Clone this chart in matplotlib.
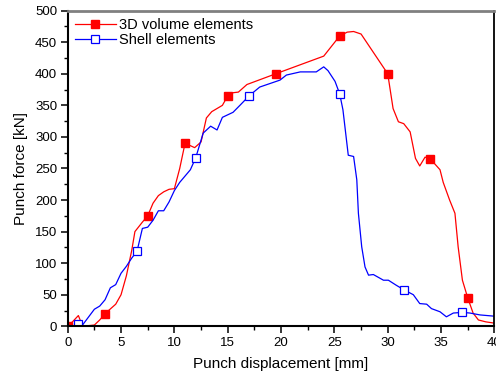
import numpy as np
import matplotlib
matplotlib.use("Agg")
import matplotlib.pyplot as plt
from matplotlib.ticker import MultipleLocator

plt.rcParams['font.family'] = ['Liberation Sans', 'DejaVu Sans']

# 3D volume elements curve
vol_x = [0, 0.5, 1.0, 1.4, 2.5, 3.0, 3.5, 4.5, 5.0, 5.5, 6.0, 6.3, 7.0, 7.5, 8.0, 8.5, 9.0,
         9.5, 10.0, 10.5, 11.0, 11.9, 12.5, 13.0, 13.5, 14.5, 15.0, 15.5, 16.0, 16.8,
         19.5, 24.0, 25.5, 26.2, 26.8, 27.5, 30.0, 30.5, 31.0, 31.5, 32.1, 32.6, 33.0,
         33.5, 34.0, 34.9, 35.2, 35.8, 36.3, 36.6, 37.0, 37.5, 38.0, 38.5, 39.2, 40.0]
vol_y = [0, 8, 17, 0, 2, 10, 20, 35, 50, 80, 120, 150, 165, 175, 195, 207, 213,
         217, 218, 250, 290, 283, 292, 330, 340, 350, 365, 370, 371, 383,
         400, 428, 460, 466, 467, 463, 400, 345, 324, 321, 308, 266, 254,
         268, 265, 248, 228, 200, 179, 126, 73, 45, 21, 10, 7, 5]
vol_mx = [0, 3.5, 7.5, 11, 15, 19.5, 25.5, 30, 34, 37.5]
vol_my = [0, 20, 175, 290, 365, 400, 460, 400, 265, 45]

# Shell elements curve
shell_x = [0, 0.6, 0.7, 1.2, 1.3, 2.5, 3.0, 3.5, 4.0, 4.5, 5.0, 5.5, 6.0, 6.5, 7.0, 7.5,
           8.0, 8.5, 9.0, 9.5, 10.0, 10.5, 11.5, 12.0, 12.7, 13.4, 14.0, 14.5, 15.5,
           16.2, 17.0, 18.0, 19.9, 20.5, 21.8, 23.3, 24.0, 24.4, 25.06, 25.5, 25.8,
           26.3, 26.8, 27.1, 27.25, 27.56, 27.87, 28.2, 28.65, 29.6, 30.06, 30.8, 31.5,
           32.4, 33.0, 33.65, 34.1, 34.9, 35.5, 36.15, 37.0, 37.7, 38.65, 40.0]
shell_y = [0, 0, 5, 5, 0, 27, 32, 42, 61, 66, 84, 95, 108, 119, 155, 157,
           168, 183, 183, 197, 215, 228, 248, 267, 306, 317, 311, 331, 339,
           351, 365, 379, 390, 398, 403, 403, 411, 405, 388, 368, 343,
           271, 269, 232, 179, 126, 94, 81, 82, 73, 73, 65, 58,
           50, 36, 35, 28, 23, 15, 21, 22, 21, 18, 16]
shell_mx = [1, 6.5, 12, 17, 25.5, 31.5, 37]
shell_my = [3, 119, 267, 365, 368, 58, 22]

fig = plt.figure(figsize=(4.96, 3.81), dpi=100)
ax = fig.add_axes([0.1365, 0.1436, 0.8603, 0.8284])

red = '#ff0000'
blue = '#0000ff'
ax.plot(vol_x, vol_y, color=red, lw=0.9)
ax.plot(vol_mx, vol_my, ls='none', marker='s', ms=6.3, color=red)
ax.plot(shell_x, shell_y, color=blue, lw=0.9)
ax.plot(shell_mx, shell_my, ls='none', marker='s', ms=6.3, mfc='white', mec=blue, mew=0.9)

# legend handles: line + marker
h1, = ax.plot([], [], color=red, lw=0.9, marker='s', ms=6.3)
h2, = ax.plot([], [], color=blue, lw=0.9, marker='s', ms=6.3, mfc='white', mew=0.9)
ax.legend([h1, h2], ['3D volume elements', 'Shell elements'], loc='upper left',
          frameon=False, fontsize=10.5, handlelength=2.8, handletextpad=0.2,
          labelspacing=0.05, borderaxespad=0.1, bbox_to_anchor=(0.0, 1.0))

ax.set_xlim(0, 40)
ax.set_ylim(0, 500)
ax.xaxis.set_major_locator(MultipleLocator(5))
ax.xaxis.set_minor_locator(MultipleLocator(2.5))
ax.yaxis.set_major_locator(MultipleLocator(50))
ax.yaxis.set_minor_locator(MultipleLocator(25))
ax.tick_params(which='major', direction='out', length=5, width=1.1, labelsize=9.5,
               top=False, right=False, pad=2.5)
ax.tick_params(which='minor', direction='out', length=3, width=1.0, top=False, right=False)

for side in ['left', 'bottom']:
    ax.spines[side].set_linewidth(1.5)
ax.spines['right'].set_linewidth(1.3)
ax.spines['top'].set_linewidth(2)
ax.spines['top'].set_color('#808080')

ax.set_xlabel('Punch displacement [mm]', fontsize=11, labelpad=6)
ax.set_ylabel('Punch force [kN]', fontsize=11, labelpad=5)

fig.savefig('out.png', dpi=100)
